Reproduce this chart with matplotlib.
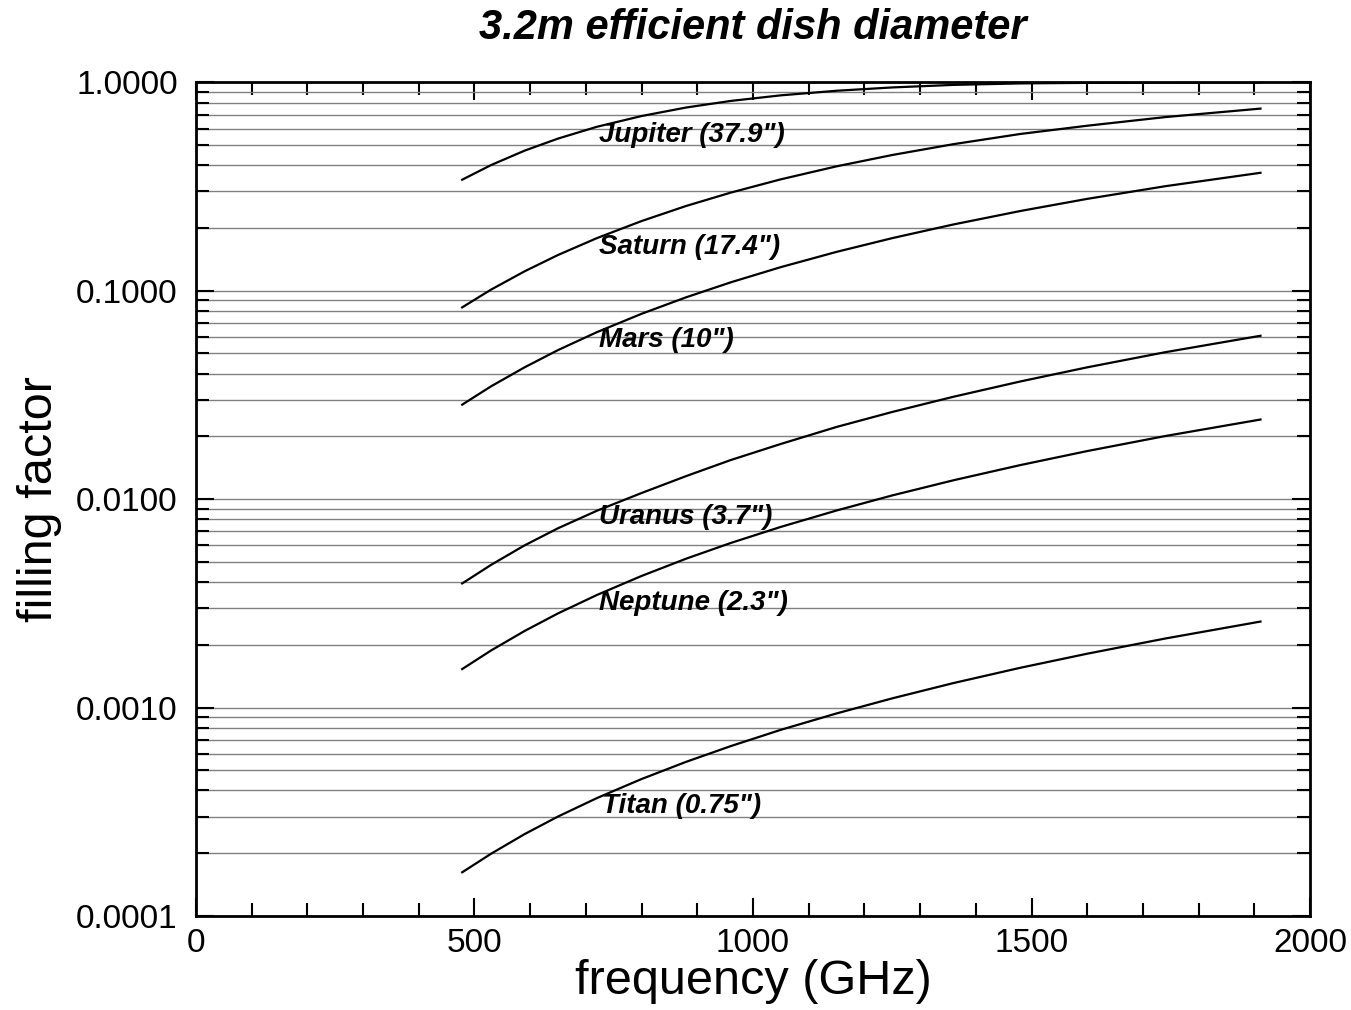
import numpy as np
import matplotlib
matplotlib.use("Agg")
import matplotlib.pyplot as plt
from matplotlib.ticker import LogLocator, MultipleLocator, FormatStrFormatter, NullFormatter

plt.rcParams['font.family'] = ['Liberation Sans', 'DejaVu Sans']

# --- данные (частота в ГГц, фактор заполнения) ---
freq = [478, 530, 590, 650, 720, 800, 880, 960, 1050, 1150, 1250, 1360, 1480, 1600, 1740, 1911]

fill_jupiter = [0.341, 0.401, 0.470, 0.537, 0.612, 0.689, 0.757, 0.814, 0.866, 0.911,
                0.945, 0.972, 0.988, 0.994, 0.997, 0.999]
fill_saturn = [0.0832, 0.1013, 0.1239, 0.1484, 0.1789, 0.2159, 0.2551, 0.2956, 0.3424, 0.3952,
               0.4480, 0.5050, 0.5652, 0.6190, 0.6810, 0.7480]
fill_mars = [0.0284, 0.0348, 0.0429, 0.0519, 0.0633, 0.0775, 0.0930, 0.1097, 0.1298, 0.1536,
             0.1788, 0.2080, 0.2413, 0.2759, 0.3173, 0.3680]
fill_uranus = [0.00394, 0.00484, 0.00600, 0.00725, 0.00880, 0.0107, 0.0129, 0.0154, 0.0184, 0.0222,
               0.0262, 0.0310, 0.0367, 0.0429, 0.0507, 0.0608]
fill_neptune = [0.00153, 0.00188, 0.00233, 0.00283, 0.00347, 0.00428, 0.00518, 0.00616, 0.00736, 0.00882,
                0.01042, 0.01232, 0.01457, 0.01701, 0.02008, 0.02410]
fill_titan = [0.000162, 0.000199, 0.000247, 0.000300, 0.000368, 0.000454, 0.000549, 0.000653, 0.000782, 0.000937,
              0.001107, 0.001311, 0.001552, 0.001813, 0.002144, 0.002586]

labels = ['Jupiter (37.9")', 'Saturn (17.4")', 'Mars (10")',
          'Uranus (3.7")', 'Neptune (2.3")', 'Titan (0.75")']
label_x = [723, 723, 723, 723, 723, 729]
label_y = [0.56, 0.163, 0.0578, 0.00823, 0.00317, 0.000338]

series = [fill_jupiter, fill_saturn, fill_mars, fill_uranus, fill_neptune, fill_titan]

fig = plt.figure(figsize=(13.51, 10.10), dpi=100)
ax = fig.add_axes([0.145, 0.0931, 0.8247, 0.8254])

for fy in series:
    ax.plot(freq, fy, color='black', lw=1.6, zorder=3)

for txt, lx, ly in zip(labels, label_x, label_y):
    ax.text(lx, ly, txt, fontsize=20, fontweight='bold', fontstyle='italic',
            ha='left', va='center', zorder=4)

ax.set_yscale('log')
ax.set_xlim(0, 2000)
ax.set_ylim(0.0001, 1.0)

ax.xaxis.set_major_locator(MultipleLocator(500))
ax.xaxis.set_minor_locator(MultipleLocator(100))
ax.yaxis.set_major_locator(LogLocator(base=10, numticks=10))
ax.yaxis.set_minor_locator(LogLocator(base=10, subs=np.arange(2, 10), numticks=20))
ax.yaxis.set_major_formatter(FormatStrFormatter('%.4f'))
ax.yaxis.set_minor_formatter(NullFormatter())

ax.tick_params(which='both', direction='in', top=True, right=True, width=1.5, color='black')
ax.tick_params(which='major', length=13, labelsize=24)
ax.tick_params(which='minor', length=9.5)
ax.tick_params(axis='y', which='major', pad=13)
ax.tick_params(axis='x', which='major', pad=9)

ax.grid(True, axis='y', which='both', color='#808080', lw=1.0, zorder=1)
ax.set_axisbelow(True)

for sp in ax.spines.values():
    sp.set_linewidth(2)

ax.set_xlabel('frequency (GHz)', fontsize=35, labelpad=0)
ax.set_ylabel('filling factor', fontsize=35, labelpad=10)
ax.set_title('3.2m efficient dish diameter', fontsize=30, fontweight='bold',
             fontstyle='italic', pad=31)

fig.savefig('out.png', dpi=100)
